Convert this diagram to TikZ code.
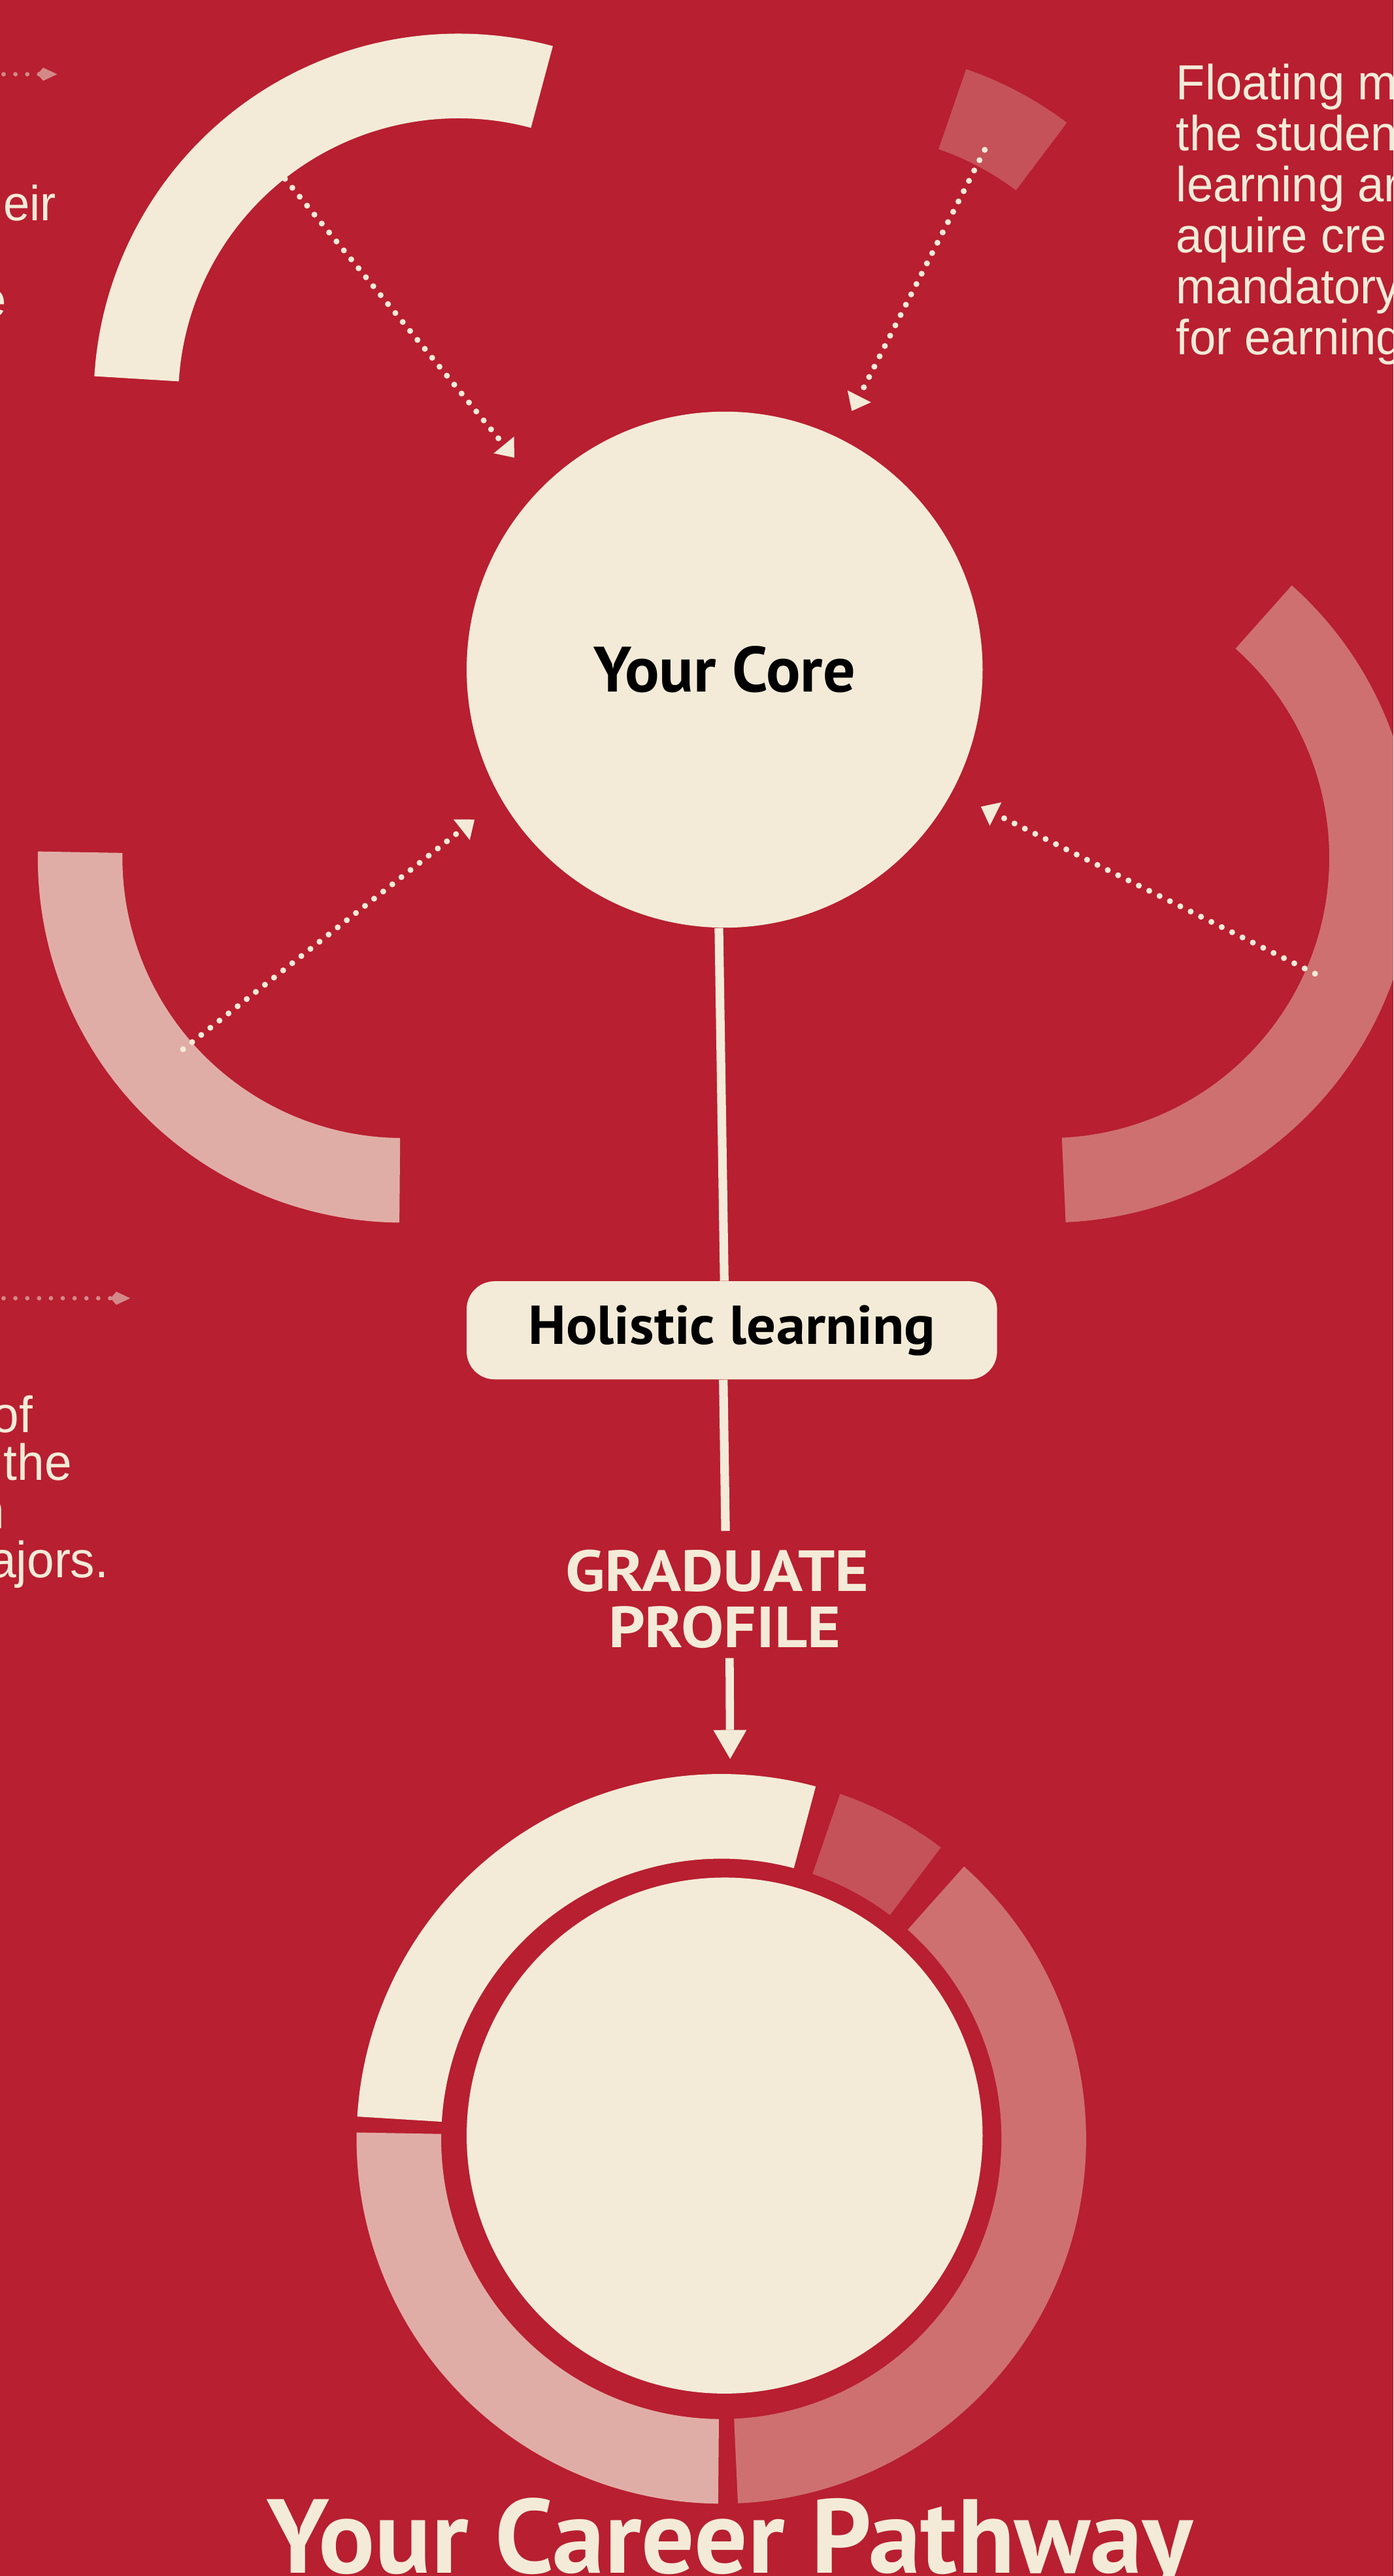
\documentclass[tikz,border=0pt]{standalone}
\usepackage{fontspec}
\setmainfont{Liberation Sans}[FakeStretch = 0.96]
\newfontfamily\grassetto{PT Sans}
\usepackage{tikz}
\usetikzlibrary{arrows.meta}
\usepackage{xcolor}
\definecolor{cremisi}{RGB}{184,31,48}
\definecolor{crema}{RGB}{243,235,216}
\definecolor{rosachiaro}{RGB}{224,173,166}
\definecolor{rosamedio}{RGB}{206,112,112}
\definecolor{rosascuro}{RGB}{197,82,89}
\definecolor{rosapunti}{RGB}{212,137,137}
% spicchio di corona circolare: centro, angolo iniziale, angolo finale, colore
\newcommand{\spicchio}[4]{
\fill[#4] ([shift={(#2:\rfuori)}]#1) arc[start angle = #2, end angle = #3, radius = \rfuori] -- ([shift={(#3:\rdentro)}]#1) arc[start angle = #3, end angle = #2, radius = \rdentro] -- cycle;
}

\begin{document}
\begin{tikzpicture}[x = 1pt, y = 1pt,
    testo/.style = {text = crema, inner sep = 0pt, font = \fontsize{30}{36}\selectfont},
    etichetta/.style = {inner sep = 0pt, font = \grassetto\bfseries\fontsize{33.3}{40}\selectfont},
    puntini/.style = {crema, line width = 3.6pt, line cap = round, dash pattern = on 0pt off 7.05pt, -{Triangle[width = 16pt, length = 10pt, line width = 0pt]}},
    puntinirosa/.style = {rosapunti, line width = 2.7pt, line cap = round, dash pattern = on 0pt off 7.2pt, -{Kite[width = 8pt, length = 12pt, inset = 3.5pt, round, line width = 0pt]}},
    linea/.style = {crema, line width = 5.25pt}]
    % parametri
    \pgfmathsetmacro{\rfuori}{222}
    \pgfmathsetmacro{\rdentro}{170.5}
    % Sfondo
    \useasboundingbox (0,0) rectangle (848,1567.5);
    \clip (0,0) rectangle (848,1567.5);
    \fill[cremisi] (0,0) rectangle (848,1567.5);
    % Centri degli anelli
    \coordinate (anello) at (439,266);
    \coordinate (altoSx) at (279,1325);
    \coordinate (altoDx) at (515.7,1315.5);
    \coordinate (medioSx) at (245,1045.5);
    \coordinate (medioDx) at (638.5,1045.5);
    % Anello del profilo
    \spicchio{anello}{75}{176.5}{crema}
    \spicchio{anello}{179}{269.5}{rosachiaro}
    \spicchio{anello}{-87.4}{48.3}{rosamedio}
    \spicchio{anello}{53}{71}{rosascuro}
    % Spicchi staccati attorno al nucleo
    \spicchio{altoSx}{75}{176.5}{crema}
    \spicchio{altoDx}{53}{71}{rosascuro}
    \spicchio{medioSx}{179}{269.5}{rosachiaro}
    \spicchio{medioDx}{-87.4}{48.3}{rosamedio}
    % Cerchi
    \node[circle, fill = crema, minimum size = 314pt, etichetta, font = \grassetto\bfseries\fontsize{39}{46}\selectfont] (nucleo) at (441,1160) {Your Core};
    \node[circle, fill = crema, minimum size = 314pt] (meta) at (441,268) {};
    % Holistic learning
    \node[etichetta, rectangle, rounded corners = 17pt, fill = crema, minimum width = 322.8pt, minimum height = 59.7pt] (olistico) at (445.4,758) {\scalebox{1.06}[1]{Holistic learning}};
    % Graduate profile
    \node[etichetta, text = crema, anchor = base, font = \grassetto\bfseries\fontsize{35.3}{40}\selectfont] (laurea) at (436.5,599) {\scalebox{1.12}[1]{GRADUATE}};
    \node[etichetta, text = crema, anchor = base, font = \grassetto\bfseries\fontsize{35.3}{40}\selectfont] (profilo) at (441,565) {\scalebox{1.1}[1]{PROFILE}};
    % Titolo
    \node[etichetta, text = crema, anchor = base, font = \grassetto\bfseries\fontsize{64}{70}\selectfont] (titolo) at (444.3,1.7) {Your Career Pathway};
    % Linee verticali
    \draw[linea] ([xshift = -3.5pt]nucleo.south) -- ([xshift = -4.6pt]olistico.north);
    \draw[linea, shorten >= 11.5pt] ([xshift = -5.2pt]olistico.south) -- ([xshift = 5.2pt]laurea.north);
    \draw[linea, line width = 5pt, shorten <= 5.7pt, shorten >= 72pt, -{Triangle[width = 20.3pt, length = 17.6pt, line width = 0pt]}] ([xshift = 3pt]profilo.south) -- ([xshift = 3.7pt]meta.north);
    % Frecce puntinate verso il nucleo
    \coordinate (pA1) at (160,1475);
    \coordinate (pA2) at (313,1289);
    \coordinate (pB1) at (599.3,1476.3);
    \coordinate (pB2) at (518.4,1317.4);
    \coordinate (pC1) at (111.4,929);
    \coordinate (pC2) at (288.8,1068.8);
    \coordinate (pD1) at (800.3,975);
    \coordinate (pD2) at (597,1076.6);
    \draw[puntini] (pA1) -- (pA2);
    \draw[puntini] (pB1) -- (pB2);
    \draw[puntini] (pC1) -- (pC2);
    \draw[puntini] (pD1) -- (pD2);
    % Frecce rosa a sinistra
    \coordinate (qA1) at (-5,1522.3);
    \coordinate (qA2) at (34.8,1522.3);
    \coordinate (qB1) at (-5,777.5);
    \coordinate (qB2) at (79.3,777.5);
    \draw[puntinirosa] (qA1) -- (qA2);
    \draw[puntinirosa] (qB1) -- (qB2);
    % Testi a sinistra (tagliati dal bordo)
    \node[testo, anchor = base east] (sx1) at (34.2,1433.3) {eir};
    \node[testo, anchor = base east] (sx2) at (4,1374.7) {e};
    \node[testo, anchor = base east, font = \fontsize{31}{36}\selectfont] (sx3) at (20.2,695.8) {of};
    \node[testo, anchor = base east, font = \fontsize{31}{36}\selectfont] (sx4) at (43.8,666.9) {the};
    \node[testo, anchor = base east, font = \fontsize{31}{36}\selectfont] (sx5) at (3.2,637.2) {n};
    \node[testo, anchor = base east, font = \fontsize{31}{36}\selectfont] (sx6) at (66.3,607.5) {ajors.};
    % Testo a destra
    \foreach \riga [count = \i from 0] in {Floating m, the studen, learning ar, aquire cre, mandatory, for earning}
        \node[testo, anchor = base west] (dx\i) at (715.7,{1507-31.08*\i}) {\riga};
\end{tikzpicture}
\end{document}
